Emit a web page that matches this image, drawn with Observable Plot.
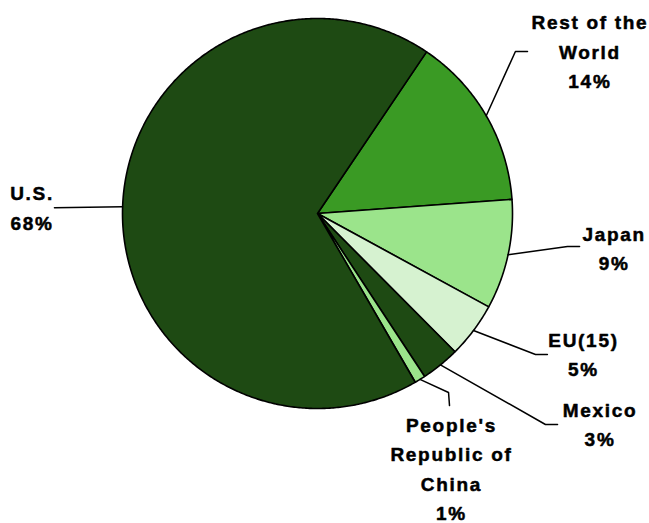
<!DOCTYPE html>
<html>
<head>
<meta charset="utf-8">
<script src="https://cdn.jsdelivr.net/npm/d3@7"></script>
<script src="https://cdn.jsdelivr.net/npm/@observablehq/plot@0.6"></script>
<style>
  html, body { margin: 0; padding: 0; background: #fff; }
  #chart svg text { letter-spacing: 1.7px; }
</style>
</head>
<body>
<div id="chart"></div>
<script>
// Data (clockwise order, starting at the Rest of the World slice)
const names  = ["Rest of the World", "Japan", "EU(15)", "Mexico", "People's Republic of China", "U.S."];
const labels = ["Rest of the\nWorld", "Japan", "EU(15)", "Mexico", "People's\nRepublic of\nChina", "U.S."];
const values = [14.4, 9.1, 4.6, 3.2, 0.9, 67.8];
const colors = ["#3a9a24", "#9be48b", "#d6f2d0", "#1e4a13", "#9be48b", "#1e4a13"];

// Layout (in units of the pie radius)
const startAngle = 34; // degrees clockwise from 12 o'clock
const labelX  = [1.397, 1.521, 1.364, 1.449, 0.687, -1.464];
const labelY  = [0.842, -0.168, -0.712, -1.070, -1.297, 0.040];
const elbowX  = [1.015, 1.282, 1.118, 1.169, 0.672, -1.349];
const elbowY  = [0.831, -0.169, -0.723, -1.082, -0.918, 0.030];
const endX    = [1.077, 1.344, 1.179, 1.231, 0.677, -1.349];
const endY    = [0.831, -0.169, -0.723, -1.082, -0.985, 0.030];

const total = d3.sum(values);
const rad = a => a * Math.PI / 180;

// slice polygons
const poly = [];
const leaders = [];
let a0 = startAngle;
values.forEach((v, i) => {
  const a1 = a0 + v / total * 360;
  poly.push({name: names[i], u: 0, v: 0});
  const n = Math.max(2, Math.ceil((a1 - a0) / 0.5));
  for (let k = 0; k <= n; k++) {
    const a = a0 + (a1 - a0) * k / n;
    poly.push({name: names[i], u: Math.sin(rad(a)), v: Math.cos(rad(a))});
  }
  poly.push({name: names[i], u: 0, v: 0});
  const am = (a0 + a1) / 2;
  leaders.push({name: names[i], u: Math.sin(rad(am)), v: Math.cos(rad(am))});
  leaders.push({name: names[i], u: elbowX[i], v: elbowY[i]});
  leaders.push({name: names[i], u: endX[i], v: endY[i]});
  a0 = a1;
});

const labelData = names.map((n, i) => ({
  text: labels[i] + "\n" + Math.round(values[i] / total * 100) + "%",
  u: labelX[i], v: labelY[i]
}));

const W = 649, H = 523, cx = 317, cy = 213, R = 195;

const chart = Plot.plot({
  width: W, height: H,
  margin: 0,
  x: {domain: [-cx / R, (W - cx) / R], axis: null},
  y: {domain: [-(H - cy) / R, cy / R], axis: null},
  color: {domain: names, range: colors},
  style: {fontFamily: "Liberation Sans, Arial, sans-serif", background: "#fff"},
  marks: [
    Plot.line(poly, {x: "u", y: "v", z: "name", fill: "name", stroke: "#000", strokeWidth: 1.6, strokeLinejoin: "round", curve: "linear"}),
    Plot.line(leaders, {x: "u", y: "v", z: "name", stroke: "#000", strokeWidth: 1.5, curve: "linear"}),
    Plot.text(labelData, {x: "u", y: "v", text: "text", fontSize: 19, fontWeight: "bold", fill: "#000", stroke: "#000", strokeWidth: 0.5, lineHeight: 1.55, textAnchor: "middle", lineAnchor: "middle"})
  ]
});
document.getElementById("chart").appendChild(chart);
</script>
</body>
</html>
